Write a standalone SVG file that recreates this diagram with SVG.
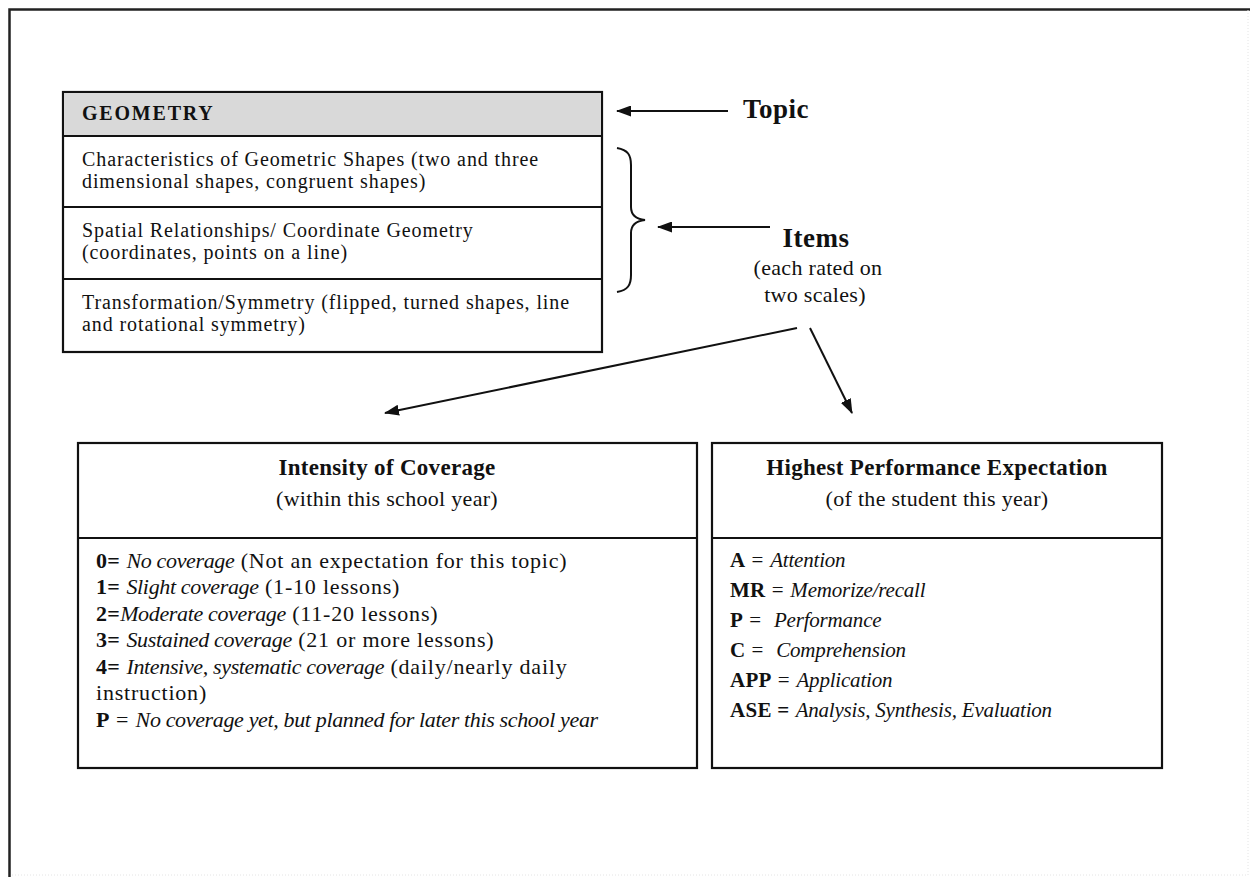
<svg xmlns="http://www.w3.org/2000/svg" width="1250" height="877" viewBox="0 0 1250 877">
<style>
text{font-family:"Liberation Serif","Times New Roman",serif;fill:#111}
.b{font-weight:bold;letter-spacing:0.3px}
.i{font-style:italic;letter-spacing:-0.35px}
.cell{font-size:20px;letter-spacing:0.9px}
.hd{font-size:20px;font-weight:bold;letter-spacing:1.8px}
.lbl{font-size:27px;font-weight:bold;letter-spacing:0.5px}
.sub{font-size:22px;letter-spacing:0.3px}
.ttl{font-size:23px;font-weight:bold;letter-spacing:0.3px}
.it{font-size:22px;letter-spacing:0.8px}
.pe{font-size:21px;letter-spacing:0.8px}
.pe .i{letter-spacing:-0.2px}
.box{fill:#fff;stroke:#111;stroke-width:2.2}
.ln{stroke:#111;stroke-width:2;fill:none}
</style>
<defs>
<marker id="ah" markerWidth="15" markerHeight="11" refX="14" refY="5.5" orient="auto" markerUnits="userSpaceOnUse">
<path d="M0,0 L15,5.5 L0,11 Z" fill="#111"/>
</marker>
</defs>
<rect width="1250" height="877" fill="#fff"/>
<g id="frame">
<path d="M9.5,877 V9.5 H1250" fill="none" stroke="#222" stroke-width="2.5"/>
<path d="M1248,10 V875 H10" fill="none" stroke="#e4e4e4" stroke-width="1" stroke-dasharray="1 2"/>
</g>
<g id="topic-table">
<rect x="63" y="92" width="539" height="260" class="box"/>
<rect x="64" y="93" width="537" height="43" fill="#d9d9d9"/>
<path d="M63,136 H602 M63,207 H602 M63,279 H602" class="ln"/>
<text x="82" y="120" class="hd">GEOMETRY</text>
<text class="cell"><tspan x="82" y="166">Characteristics of Geometric Shapes (two and three</tspan><tspan x="82" y="188">dimensional shapes, congruent shapes)</tspan></text>
<text class="cell"><tspan x="82" y="237">Spatial Relationships/ Coordinate Geometry</tspan><tspan x="82" y="259">(coordinates, points on a line)</tspan></text>
<text class="cell"><tspan x="82" y="309">Transformation/Symmetry (flipped, turned shapes, line</tspan><tspan x="82" y="331">and rotational symmetry)</tspan></text>
</g>
<g id="topic-label">
<text x="743" y="118" class="lbl">Topic</text>
</g>
<g id="items-label">
<text x="816" y="247" class="lbl" text-anchor="middle">Items</text>
<text x="818" y="275" class="sub" text-anchor="middle">(each rated on</text>
<text x="815" y="302" class="sub" text-anchor="middle">two scales)</text>
</g>
<g id="connectors">
<line x1="728" y1="111" x2="617" y2="111" class="ln" marker-end="url(#ah)"/>
<line x1="770" y1="227" x2="658" y2="227" class="ln" marker-end="url(#ah)"/>
<path d="M617,148 C628,150 631,155 631,165 V207 C631,215 636,219 645,220 C636,221 631,225 631,233 V275 C631,285 628,290 617,292" class="ln"/>
<line x1="797" y1="328" x2="385" y2="413" class="ln" marker-end="url(#ah)"/>
<line x1="810" y1="328" x2="852" y2="413" class="ln" marker-end="url(#ah)"/>
</g>
<g id="intensity">
<rect x="78" y="443" width="619" height="325" class="box"/>
<path d="M78,538 H697" class="ln"/>
<text x="387" y="475" class="ttl" text-anchor="middle">Intensity of Coverage</text>
<text x="387" y="506" class="sub" text-anchor="middle">(within this school year)</text>
<text class="it" x="96" y="568"><tspan class="b">0=</tspan> <tspan class="i">No coverage</tspan> (Not an expectation for this topic)</text>
<text class="it" x="96" y="594"><tspan class="b">1=</tspan> <tspan class="i">Slight coverage</tspan> (1-10 lessons)</text>
<text class="it" x="96" y="621"><tspan class="b">2=</tspan><tspan class="i">Moderate coverage</tspan> (11-20 lessons)</text>
<text class="it" x="96" y="647"><tspan class="b">3=</tspan> <tspan class="i">Sustained coverage</tspan> (21 or more lessons)</text>
<text class="it" x="96" y="674"><tspan class="b">4=</tspan> <tspan class="i">Intensive, systematic coverage</tspan> (daily/nearly daily</text>
<text class="it" x="96" y="700">instruction)</text>
<text class="it" x="96" y="727"><tspan class="b">P</tspan> = <tspan class="i">No coverage yet, but planned for later this school year</tspan></text>
</g>
<g id="performance">
<rect x="712" y="443" width="450" height="325" class="box"/>
<path d="M712,538 H1162" class="ln"/>
<text x="937" y="475" class="ttl" text-anchor="middle">Highest Performance Expectation</text>
<text x="937" y="506" class="sub" text-anchor="middle">(of the student this year)</text>
<text class="pe" x="730" y="567"><tspan class="b">A</tspan> = <tspan class="i">Attention</tspan></text>
<text class="pe" x="730" y="597"><tspan class="b">MR</tspan> = <tspan class="i">Memorize/recall</tspan></text>
<text class="pe" x="730" y="627" xml:space="preserve"><tspan class="b">P</tspan> =  <tspan class="i">Performance</tspan></text>
<text class="pe" x="730" y="657" xml:space="preserve"><tspan class="b">C</tspan> =  <tspan class="i">Comprehension</tspan></text>
<text class="pe" x="730" y="687"><tspan class="b">APP</tspan> = <tspan class="i">Application</tspan></text>
<text class="pe" x="730" y="717"><tspan class="b">ASE =</tspan> <tspan class="i">Analysis, Synthesis, Evaluation</tspan></text>
</g>
</svg>
